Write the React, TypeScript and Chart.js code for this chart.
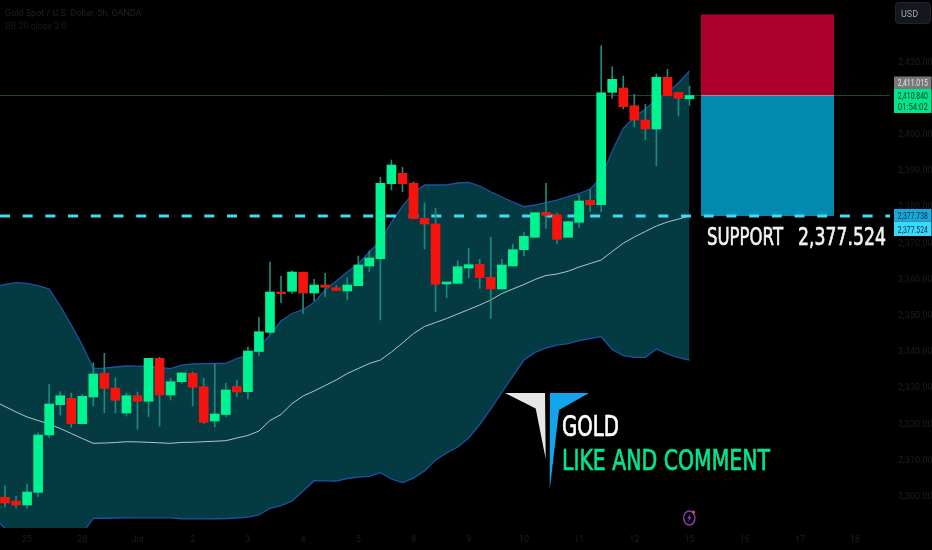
import React, { useEffect, useRef } from "react";
import { Chart, registerables } from "chart.js";

Chart.register(...registerables);

// candles: index 0..62
const opens = [2299.84,2298.82,2297.72,2301.23,2317.06,2325.42,2327.19,2320.18,2327.55,2334.10,2330.04,2323.13,2327.91,2326.37,2338.24,2328.11,2331.78,2334.10,2330.40,2320.92,2322.72,2330.45,2329.02,2340.12,2345.42,2356.56,2356.75,2362.00,2356.28,2358.49,2357.75,2356.83,2358.30,2363.74,2365.76,2386.47,2389.35,2386.59,2376.92,2375.34,2358.77,2358.96,2363.19,2364.21,2360.62,2357.39,2363.74,2368.24,2371.67,2378.57,2377.91,2371.67,2375.81,2381.89,2380.67,2411.72,2412.91,2408.02,2404.07,2401.59,2415.87,2411.72,2409.95];
const closes = [2298.27,2297.72,2301.31,2317.06,2325.62,2327.91,2320.18,2327.75,2333.91,2329.90,2326.64,2327.91,2326.37,2338.24,2328.11,2331.78,2334.18,2330.23,2320.56,2322.86,2329.49,2328.93,2340.26,2345.59,2356.56,2356.09,2362.08,2356.28,2358.49,2357.86,2357.03,2358.49,2364.02,2365.95,2386.59,2391.64,2386.47,2376.81,2375.34,2358.69,2359.32,2363.55,2364.10,2360.51,2357.39,2364.02,2368.24,2371.94,2378.46,2377.75,2371.11,2375.98,2381.70,2380.67,2411.61,2415.31,2407.75,2404.07,2401.59,2415.87,2410.78,2410.07,2410.84];
const highs = [2303.05,2300.20,2303.52,2317.69,2331.06,2329.02,2328.57,2328.30,2337.03,2339.62,2332.88,2328.57,2328.85,2338.24,2338.52,2332.72,2334.38,2334.46,2332.72,2336.67,2331.34,2332.25,2341.36,2349.57,2364.84,2360.98,2362.44,2362.08,2360.07,2361.72,2358.41,2360.43,2366.50,2367.97,2388.24,2393.02,2391.00,2387.03,2381.23,2379.68,2359.32,2365.20,2368.63,2365.59,2371.67,2365.59,2369.82,2372.94,2378.46,2386.59,2378.46,2376.17,2383.35,2384.93,2424.60,2418.79,2416.23,2411.17,2408.41,2416.78,2418.08,2411.72,2413.46];
const lows = [2297.25,2297.08,2296.81,2300.01,2316.31,2322.58,2319.18,2320.09,2325.15,2323.22,2323.13,2322.30,2318.63,2322.11,2319.54,2326.72,2331.34,2325.07,2320.29,2319.27,2322.11,2327.64,2327.00,2338.88,2344.96,2353.60,2356.20,2350.67,2354.07,2355.26,2356.92,2354.35,2358.30,2362.17,2348.82,2384.73,2384.27,2376.81,2368.44,2351.12,2354.98,2358.96,2360.51,2357.58,2349.29,2357.39,2363.74,2366.58,2371.67,2374.15,2370.01,2371.67,2374.43,2378.74,2378.74,2410.07,2407.11,2402.22,2398.55,2391.45,2410.70,2405.18,2408.13];

// Bollinger bands: index -1..62
const bandUpper = [2358.08,2358.63,2359.13,2358.96,2358.35,2357.39,2352.69,2347.44,2341.92,2335.48,2335.56,2335.84,2336.12,2336.06,2335.98,2335.70,2335.37,2336.39,2336.67,2336.78,2336.81,2336.86,2338.19,2339.10,2341.23,2344.68,2348.55,2350.62,2351.67,2353.71,2357.11,2359.60,2362.08,2364.29,2367.61,2370.65,2375.89,2380.31,2383.91,2386.12,2386.12,2386.17,2386.67,2386.86,2385.84,2384.26,2382.80,2381.42,2380.12,2380.59,2381.28,2381.97,2382.94,2383.77,2385.01,2388.05,2395.51,2401.78,2404.90,2407.11,2409.60,2411.67,2414.29,2417.61];
const bandMiddle = [2326.45,2324.93,2323.41,2322.03,2321.06,2320.09,2318.85,2317.47,2316.09,2314.76,2314.85,2314.98,2315.20,2315.15,2315.04,2314.90,2314.76,2315.01,2315.07,2315.20,2315.34,2315.48,2316.23,2316.92,2318.16,2321.06,2322.72,2325.76,2327.83,2329.21,2330.73,2332.25,2334.04,2335.43,2336.81,2337.77,2339.98,2342.47,2345.09,2347.03,2348.13,2349.24,2350.48,2351.72,2352.97,2354.35,2356.14,2357.39,2358.63,2360.01,2361.12,2361.53,2362.30,2363.46,2364.43,2365.40,2367.75,2370.01,2371.75,2373.27,2374.79,2375.89,2376.72,2377.55];
const bandLower = [2294.40,2291.23,2288.33,2286.39,2285.29,2285.29,2285.84,2287.50,2289.98,2294.04,2294.07,2294.13,2294.16,2294.18,2294.18,2294.18,2294.18,2293.93,2293.91,2293.91,2293.93,2293.96,2294.13,2294.40,2294.96,2296.81,2297.58,2298.82,2301.59,2304.43,2304.40,2304.35,2305.04,2305.45,2305.65,2306.64,2304.90,2303.93,2305.12,2307.11,2310.15,2312.08,2313.74,2316.23,2319.96,2324.24,2328.80,2333.35,2337.77,2339.87,2341.09,2341.86,2342.28,2343.13,2343.68,2344.21,2340.67,2338.96,2338.52,2338.52,2340.81,2339.43,2338.46,2337.77];

const lastPrice = 2410.84;
const supportPrice = 2377.524;
const targetPrice = 2433.2;
const boxStart = 63.04;
const boxEnd = 75.09;
const xMin = -0.453;
const xMax = 80.16;
const yMin = 2291.37;
const yMax = 2437.22;

const xTickValues = [2,7,12,17,22,27,32,37,42,47,52,57,62,67,72,77];
const xTickLabels = ["25","28","Jul","2","3","4","5","8","9","10","11","12","15","16","17","18"];
const yTickValues = [2300,2310,2320,2330,2340,2350,2360,2370,2380,2390,2400,2410,2420];

const GREEN = "#00f391";
const RED = "#f5130d";
const WICK = "#1c8a7c";
const FAINT = "#1e1e1e";

const candleIdx = opens.map((_, i) => i);
const bandPts = (arr: number[]) => arr.map((y, i) => ({ x: i - 1, y }));
const hLine = (y: number, a: number, b: number) => [{ x: a, y }, { x: b, y }];

const overlay = {
  id: "overlay",
  beforeDraw(chart: any) {
    const c = chart.ctx;
    c.save();
    c.fillStyle = "#000";
    c.fillRect(0, 0, chart.width, chart.height);
    c.restore();
  },
  afterDraw(chart: any) {
    const c = chart.ctx as CanvasRenderingContext2D;
    c.save();
    c.textBaseline = "alphabetic";
    c.textAlign = "left";

    // legend
    c.fillStyle = "#202020";
    c.font = '9px "Liberation Sans Narrow", Roboto, sans-serif';
    c.fillText("Gold Spot / U.S. Dollar, 5h, OANDA", 5, 16);
    c.fillStyle = "#1a1a1a";
    c.fillText("BB 20 close 2 0", 5, 29);

    // USD button
    c.fillStyle = "#14171f";
    c.strokeStyle = "#20242e";
    c.beginPath();
    c.roundRect(895.5, 2.5, 35, 21, 3);
    c.fill();
    c.stroke();
    c.fillStyle = "#a0a4ac";
    c.font = '9px "Liberation Sans Narrow", Roboto, sans-serif';
    c.fillText("USD", 901, 16.5);

    // price tags
    const tag = (y0: number, y1: number, bg: string) => {
      c.fillStyle = bg;
      c.fillRect(894, y0, 37.5, y1 - y0);
    };
    const tagText = (t: string, y: number, col: string) => {
      c.fillStyle = col;
      c.textAlign = "center";
      c.font = '9.5px "Liberation Sans Narrow", Roboto, sans-serif';
      c.fillText(t, 912.8, y, 30);
      c.textAlign = "left";
    };
    tag(76.5, 89, "#787878");
    tagText("2,411.015", 86, "#e6e6e6");
    tag(89, 113, "#00e58a");
    tagText("2,410.840", 99, "#08352a");
    tagText("01:54:02", 109.5, "#08352a");
    tag(209, 221.5, "#1aa8dc");
    tagText("2,377.738", 219, "#0c2c44");
    tag(221.5, 236, "#38d9fb");
    tagText("2,377.524", 232.5, "#0c2c44");

    // annotation texts, thickened with a thin stroke
    const heavy = (t: string, x: number, y: number, w: number, col: string) => {
      c.fillStyle = col;
      c.strokeStyle = col;
      c.lineWidth = 0.7;
      c.fillText(t, x, y, w);
      c.strokeText(t, x, y, w);
    };
    c.font = '25px "DejaVu Sans", sans-serif';
    heavy("SUPPORT", 707, 245, 76, "#f2f2f2");
    heavy("2,377.524", 798, 245, 88, "#f2f2f2");

    // logo
    c.fillStyle = "#e6e6e6";
    c.beginPath();
    c.moveTo(505, 393);
    c.lineTo(545, 393);
    c.lineTo(545.7, 459);
    c.lineTo(535.7, 408.5);
    c.closePath();
    c.fill();
    c.fillStyle = "#12a5ea";
    c.beginPath();
    c.moveTo(550, 393);
    c.lineTo(589, 393);
    c.lineTo(559, 410);
    c.lineTo(549.7, 490);
    c.closePath();
    c.fill();

    c.font = '28px "DejaVu Sans", sans-serif';
    heavy("GOLD", 562, 436, 57, "#ffffff");
    heavy("LIKE AND COMMENT", 562, 469.5, 208, "#00e68e");

    // watch icon
    c.strokeStyle = "#8a3db8";
    c.lineWidth = 1.4;
    c.beginPath();
    c.ellipse(689.3, 518, 5.6, 7, 0, 0, Math.PI * 2);
    c.stroke();
    c.fillStyle = "#8a3db8";
    c.beginPath();
    c.moveTo(690.5, 513.5);
    c.lineTo(687, 518.5);
    c.lineTo(689.2, 518.5);
    c.lineTo(688, 522.5);
    c.lineTo(691.5, 517);
    c.lineTo(689.4, 517);
    c.closePath();
    c.fill();
    c.fillStyle = "#f04438";
    c.beginPath();
    c.arc(693.5, 512, 1.6, 0, Math.PI * 2);
    c.fill();

    c.restore();
  },
};

const noPad = (s: any) => {
  s.paddingTop = 0;
  s.paddingBottom = 0;
  s.paddingLeft = 0;
  s.paddingRight = 0;
};

export default function App() {
  const ref = useRef<HTMLCanvasElement>(null);
  useEffect(() => {
    document.body.style.margin = "0";
    document.body.style.background = "#000";
    const tickFont = { family: '"Liberation Sans Narrow", Roboto, sans-serif', size: 9 };
    const chart = new Chart(ref.current as HTMLCanvasElement, {
      type: "bar",
      data: {
        datasets: [
          { type: "line", data: bandPts(bandUpper), order: 10, borderColor: "#1d52a6", borderWidth: 1.3, pointRadius: 0, fill: "+1", backgroundColor: "#043a42" },
          { type: "line", data: bandPts(bandLower), order: 9, borderColor: "#1d52a6", borderWidth: 1.3, pointRadius: 0, fill: false },
          { type: "line", data: bandPts(bandMiddle), order: 8, borderColor: "#b4c6c6", borderWidth: 1, pointRadius: 0, fill: false },
          { type: "line", data: hLine(targetPrice, boxStart, boxEnd), order: 7, borderWidth: 0, pointRadius: 0, fill: "+1", backgroundColor: "#ae002e" },
          { type: "line", data: hLine(lastPrice, boxStart, boxEnd), order: 6, borderWidth: 0, pointRadius: 0, fill: false },
          { type: "line", data: hLine(supportPrice, boxStart, boxEnd), order: 7, borderWidth: 0, pointRadius: 0, fill: "-1", backgroundColor: "#008ab0" },
          { type: "line", data: hLine(lastPrice, xMin, xMax), order: 5, borderColor: "#124a3c", borderWidth: 1, pointRadius: 0, fill: false },
          { type: "line", data: hLine(lastPrice, boxStart, boxEnd), order: 4, borderColor: "#a08c98", borderWidth: 1, pointRadius: 0, fill: false },
          { type: "line", data: hLine(supportPrice, xMin, xMax), order: 3, borderColor: "#3fdcf0", borderWidth: 3, borderDash: [10, 12.7], pointRadius: 0, fill: false },
          { data: candleIdx.map((i) => ({ x: i, y: [lows[i], highs[i]] })), order: 2, backgroundColor: WICK, barThickness: 1, grouped: false },
          { data: candleIdx.map((i) => ({ x: i, y: [opens[i], closes[i]] })), order: 1, backgroundColor: candleIdx.map((i) => (closes[i] >= opens[i] ? GREEN : RED)), barThickness: 9, grouped: false },
        ] as any,
      },
      options: {
        responsive: false,
        animation: false,
        layout: { padding: 0 },
        plugins: { legend: { display: false }, tooltip: { enabled: false } },
        scales: {
          x: {
            type: "linear",
            offset: false,
            min: xMin,
            max: xMax,
            grid: { display: false, drawTicks: false },
            border: { display: false },
            afterBuildTicks: (s: any) => {
              s.ticks = xTickValues.map((value) => ({ value }));
            },
            afterFit: (s: any) => {
              s.height = 22;
              noPad(s);
            },
            ticks: {
              color: FAINT,
              font: tickFont,
              padding: 6,
              maxRotation: 0,
              autoSkip: false,
              callback: (v: any) => xTickLabels[xTickValues.indexOf(Number(v))] ?? "",
            },
          },
          y: {
            position: "right",
            min: yMin,
            max: yMax,
            grid: { display: false, drawTicks: false },
            border: { display: false },
            afterBuildTicks: (s: any) => {
              s.ticks = yTickValues.map((value) => ({ value }));
            },
            afterFit: (s: any) => {
              s.width = 42;
              noPad(s);
            },
            ticks: {
              color: FAINT,
              font: tickFont,
              padding: 8,
              autoSkip: false,
              callback: (v: any) =>
                Number(v).toLocaleString("en-US", { minimumFractionDigits: 3, maximumFractionDigits: 3 }),
            },
          },
        },
      } as any,
      plugins: [overlay],
    });
    return () => chart.destroy();
  }, []);
  return (
    <canvas
      ref={ref}
      width={932}
      height={550}
      style={{ display: "block", position: "fixed", left: 0, top: 0, width: 932, height: 550 }}
    />
  );
}
